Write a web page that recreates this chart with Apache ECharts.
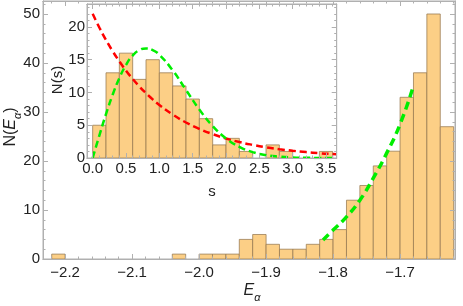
<!DOCTYPE html>
<html><head><meta charset="utf-8">
<script src="https://cdn.jsdelivr.net/npm/echarts@6/dist/echarts.min.js"></script>
<style>html,body{margin:0;padding:0;background:#fff}#c{width:463px;height:306px}</style>
</head><body><div id="c"></div>
<script>
// ---- main histogram: level energies E_alpha ----
const mainBinStarts = [-2.24,-2.22,-2.20,-2.18,-2.16,-2.14,-2.12,-2.10,-2.08,-2.06,-2.04,-2.02,-2.00,-1.98,-1.96,-1.94,-1.92,-1.90,-1.88,-1.86,-1.84,-1.82,-1.80,-1.78,-1.76,-1.74,-1.72,-1.70,-1.68,-1.66,-1.64];
const mainCounts    = [0,1,0,0,0,0,0,0,0,0,1,0,1,1,1,4,5,3,2,2,3,4,6,12,15,19,22,33,38,50,27];
const mainBinWidth = 0.02;
const mainFitE = [-1.815,-1.80,-1.78,-1.76,-1.74,-1.72,-1.70,-1.681];
const mainFitN = [3.9,5.9,8.6,12.0,16.5,21.6,27.5,34.9];
const mainXTicks = [-2.2,-2.1,-2.0,-1.9,-1.8,-1.7];
const mainYTicks = [0,10,20,30,40,50];

// ---- inset histogram: level spacings s ----
const insetBinStarts = [0,0.2,0.4,0.6,0.8,1.0,1.2,1.4,1.6,1.8,2.0,2.2,2.4,2.6,2.8,3.0,3.2,3.4];
const insetCounts    = [5,13,16,12,15,13,11,9,6,2,3,1,0,2,1,0,0,1];
const insetBinWidth = 0.2;
const curveS   = [0,0.1,0.2,0.3,0.4,0.5,0.6,0.7,0.8,0.9,1.0,1.2,1.4,1.6,1.8,2.0,2.2,2.4,2.6,2.8,3.0,3.2,3.4,3.6,3.66];
const poissonN = [22.00,19.91,18.01,16.30,14.75,13.34,12.07,10.92,9.89,8.94,8.09,6.63,5.42,4.44,3.64,2.98,2.44,2.00,1.63,1.34,1.10,0.90,0.73,0.60,0.57];
const wignerN  = [0,3.43,6.70,9.66,12.19,14.20,15.63,16.46,16.72,16.46,15.76,13.38,10.38,7.40,4.88,2.99,1.70,0.90,0.44,0.21,0.09,0.04,0.01,0.00,0.00];
const insetXTicks = [0,0.5,1.0,1.5,2.0,2.5,3.0,3.5];
const insetYTicks = [0,5,10,15,20];

const FONT = 'Liberation Sans';
const frameColor = '#b0b0b0';
const barFill = '#fccf86';
const barEdge = 'rgba(150,120,80,0.75)';

const mainX = {min:-2.233, max:-1.618};
const mainY = {min:0, max:52.65};
const insX = {min:-0.085, max:3.66};
const insY = {min:0, max:23.5};

// grid boxes (layout)
const G0 = {left: 43, right: 8, top: 1, bottom: 47};
const G1 = {left: 87, right: 126.3, top: 4, bottom: 148};
const W = 463, H = 306;
const g0w = W - G0.left - G0.right, g0h = H - G0.top - G0.bottom;
const g1w = W - G1.left - G1.right, g1h = H - G1.top - G1.bottom;

function minorList(min, max, step) {
  const out = [];
  const start = Math.ceil(min / step - 1e-9);
  for (let k = start; k * step <= max + 1e-9; k++) out.push(+(k * step).toFixed(4));
  return out;
}
function fmtSigned(v){ return (v < 0 ? '\u2212' : '') + Math.abs(v).toFixed(1); }

// far = true: axis placed on the opposite frame side via offset, ticks pointing into the plot
function axis(grid, pos, rng, ticks, len, showLabel, fmt, margin, offset, z) {
  const far = !!offset;
  return {
    type: 'value', gridIndex: grid, position: pos, min: rng.min, max: rng.max,
    offset: offset || 0, z: z,
    axisLine: {show: true, onZero: false, lineStyle: {color: frameColor, width: 1}},
    axisTick: {show: true, inside: !far, length: len, customValues: ticks, lineStyle: {color: frameColor, width: 1}},
    axisLabel: {show: !!showLabel, customValues: ticks, formatter: fmt, margin: margin || 0,
      fontSize: 15, color: '#222', fontFamily: FONT},
    splitLine: {show: false}
  };
}

const xAxes = [
  axis(0,'bottom',mainX,mainXTicks,5,true,fmtSigned,6,0,3),
  axis(0,'bottom',mainX,minorList(mainX.min,mainX.max,0.02),2.5,false,null,0,0,3),
  axis(0,'bottom',mainX,mainXTicks,5,false,null,0,-g0h,3),
  axis(0,'bottom',mainX,minorList(mainX.min,mainX.max,0.02),2.5,false,null,0,-g0h,3),
  axis(1,'bottom',insX,insetXTicks,5,true,v=>v.toFixed(1),3,0,8),
  axis(1,'bottom',insX,minorList(insX.min,insX.max,0.1),2.5,false,null,0,0,8),
  axis(1,'bottom',insX,insetXTicks,5,false,null,0,-g1h,8),
  axis(1,'bottom',insX,minorList(insX.min,insX.max,0.1),2.5,false,null,0,-g1h,8)
];
const yAxes = [
  axis(0,'left',mainY,mainYTicks,5,true,v=>String(v),3,0,3),
  axis(0,'left',mainY,minorList(mainY.min,mainY.max,2),2.5,false,null,0,0,3),
  axis(0,'left',mainY,mainYTicks,5,false,null,0,-g0w,3),
  axis(0,'left',mainY,minorList(mainY.min,mainY.max,2),2.5,false,null,0,-g0w,3),
  axis(1,'left',insY,insetYTicks,5,true,v=>String(v),2,0,8),
  axis(1,'left',insY,minorList(insY.min,insY.max,1),2.5,false,null,0,0,8),
  axis(1,'left',insY,insetYTicks,5,false,null,0,-g1w,8),
  axis(1,'left',insY,minorList(insY.min,insY.max,1),2.5,false,null,0,-g1w,8)
];

function histData(starts, counts, w) {
  const d = [];
  for (let i = 0; i < starts.length; i++) if (counts[i] > 0) d.push([starts[i], starts[i] + w, counts[i]]);
  return d;
}
function renderBar(params, api) {
  const p0 = api.coord([api.value(0), api.value(2)]);
  const p1 = api.coord([api.value(1), 0]);
  return {type: 'rect', shape: {x: p0[0], y: p0[1], width: p1[0] - p0[0], height: p1[1] - p0[1]},
    style: {fill: barFill, stroke: barEdge, lineWidth: 1}};
}

const chart = echarts.init(document.getElementById('c'), null, {renderer: 'canvas'});
chart.setOption({
  animation: false,
  backgroundColor: '#fff',
  grid: [
    Object.assign({outerBoundsMode: 'none', containLabel: false, show: true,
      backgroundColor: 'transparent', borderColor: frameColor, borderWidth: 1}, G0),
    Object.assign({outerBoundsMode: 'none', containLabel: false, show: true,
      backgroundColor: '#fff', borderColor: frameColor, borderWidth: 1, z: 5}, G1)
  ],
  xAxis: xAxes,
  yAxis: yAxes,
  series: [
    {type: 'custom', xAxisIndex: 0, yAxisIndex: 0, renderItem: renderBar, clip: true,
     encode: {x: [0, 1], y: 2}, data: histData(mainBinStarts, mainCounts, mainBinWidth), z: 2},
    {type: 'line', xAxisIndex: 0, yAxisIndex: 0, smooth: true, symbol: 'none', z: 3,
     data: mainFitE.map((e, i) => [e, mainFitN[i]]),
     lineStyle: {color: '#00ee00', width: 3.5, type: [8, 5]}},
    {type: 'custom', xAxisIndex: 4, yAxisIndex: 4, renderItem: renderBar, clip: true, z: 6,
     encode: {x: [0, 1], y: 2}, data: histData(insetBinStarts, insetCounts, insetBinWidth)},
    {type: 'line', xAxisIndex: 4, yAxisIndex: 4, smooth: true, symbol: 'none', z: 7, clip: true,
     data: curveS.map((s, i) => [s, poissonN[i]]),
     lineStyle: {color: '#ff0000', width: 2.5, type: [7, 4]}},
    {type: 'line', xAxisIndex: 4, yAxisIndex: 4, smooth: true, symbol: 'none', z: 7, clip: true,
     data: curveS.map((s, i) => [s, wignerN[i]]),
     lineStyle: {color: '#00ee00', width: 2.5, type: [7, 4]}}
  ],
  graphic: [
    {type: 'text', x: 13, y: 127, rotation: Math.PI / 2, z: 10,
     style: {text: '{n|N(}{e|E}{s|\u03b1}{n|)}', align: 'center', verticalAlign: 'middle',
       rich: {
         n: {fontSize: 16, fontFamily: FONT, fill: '#222', lineHeight: 20, verticalAlign: 'top'},
         e: {fontSize: 16, fontFamily: FONT, fontStyle: 'italic', fill: '#222', lineHeight: 20, verticalAlign: 'top'},
         s: {fontSize: 11, fontFamily: FONT, fontStyle: 'italic', fill: '#222', lineHeight: 11, verticalAlign: 'top', padding: [9, 0, 0, 0]}
       }}},
    {type: 'text', x: 252, y: 293, z: 10,
     style: {text: '{e|E}{s|\u03b1}', align: 'center', verticalAlign: 'middle',
       rich: {
         e: {fontSize: 16, fontFamily: FONT, fontStyle: 'italic', fill: '#222', lineHeight: 20, verticalAlign: 'top'},
         s: {fontSize: 11, fontFamily: FONT, fontStyle: 'italic', fill: '#222', lineHeight: 11, verticalAlign: 'top', padding: [9, 0, 0, 0]}
       }}},
    {type: 'text', x: 58, y: 80, rotation: Math.PI / 2, z: 10,
     style: {text: 'N(s)', align: 'center', verticalAlign: 'middle', fontSize: 15, fontFamily: FONT, fill: '#222'}},
    {type: 'text', x: 212, y: 192, z: 10,
     style: {text: 's', align: 'center', verticalAlign: 'middle', fontSize: 15, fontFamily: FONT, fill: '#222'}}
  ]
});
</script>
</body></html>
